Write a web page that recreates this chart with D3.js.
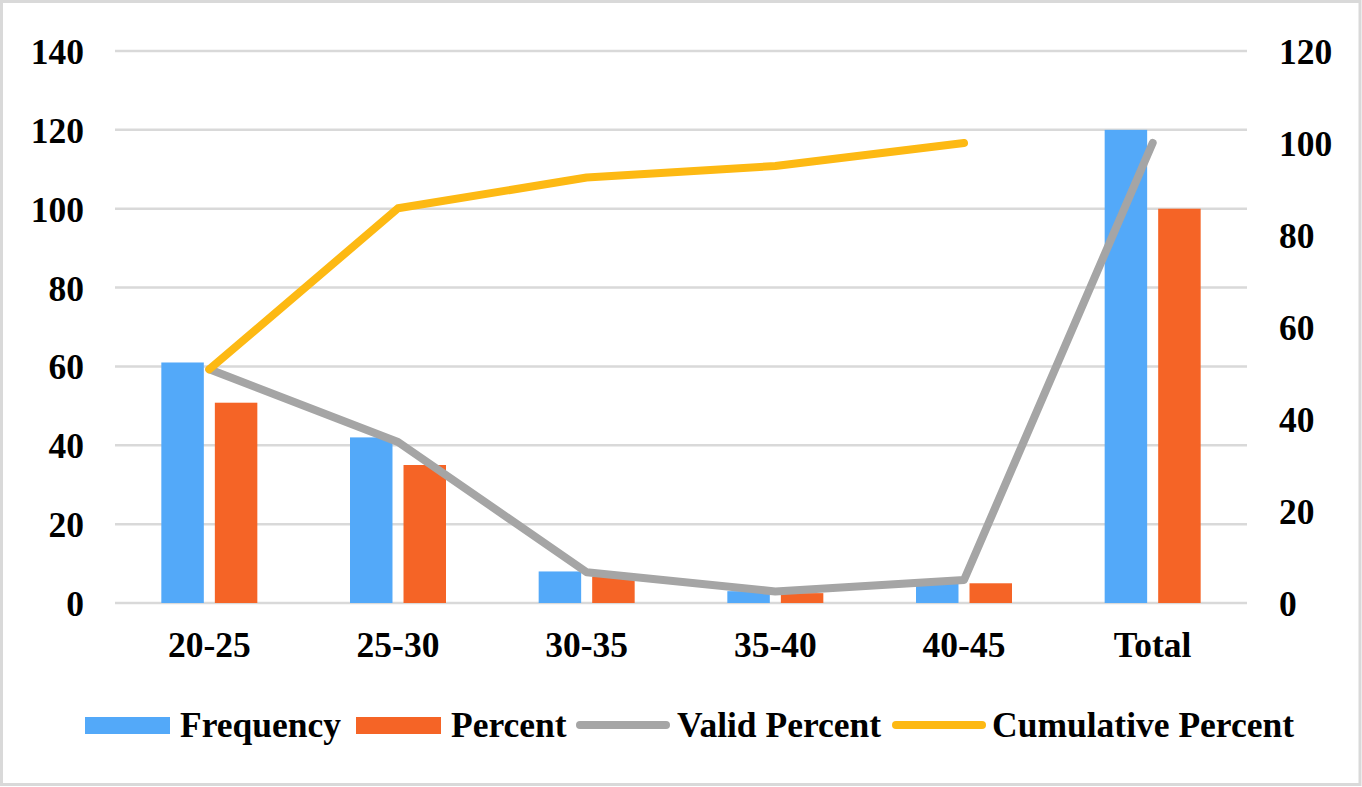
<!DOCTYPE html>
<html>
<head>
<meta charset="utf-8">
<script src="https://cdn.jsdelivr.net/npm/d3@7"></script>
<style>
  html, body { margin: 0; padding: 0; background: #fff; }
  svg { display: block; }
  text { font-family: "Liberation Serif", "Times New Roman", serif; font-weight: bold; fill: #000; }
</style>
</head>
<body>
<svg id="chart" width="1362" height="787"></svg>
<script>
const categories = ["20-25", "25-30", "30-35", "35-40", "40-45", "Total"];
const frequency = [61, 42, 8, 3, 6, 120];
const percent = [50.8, 35.0, 6.7, 2.5, 5.0, 100];
const validPercent = [50.8, 35.0, 6.7, 2.5, 5.0, 100];
const cumulativePercent = [50.8, 85.8, 92.5, 95.0, 100, null];
const leftTicks = [0, 20, 40, 60, 80, 100, 120, 140];
const rightTicks = [0, 20, 40, 60, 80, 100, 120];
const seriesNames = ["Frequency", "Percent", "Valid Percent", "Cumulative Percent"];

const colors = {
  "Frequency": "#53a9f9",
  "Percent": "#f56426",
  "Valid Percent": "#a5a5a5",
  "Cumulative Percent": "#fdb913"
};
const FS = "35.5px";

const svg = d3.select("#chart");
const W = 1362, H = 787;
const plot = { left: 115, right: 1247, top: 51, bottom: 603 };

svg.append("rect").attr("x", 1.5).attr("y", 1.5).attr("width", W - 3.5).attr("height", H - 4)
  .attr("fill", "#fff").attr("stroke", "#d9d9d9").attr("stroke-width", 3);

const x = d3.scaleBand().domain(categories).range([plot.left, plot.right]).padding(0);
const yL = d3.scaleLinear().domain([0, 140]).range([plot.bottom, plot.top]);
const yR = d3.scaleLinear().domain([0, 120]).range([plot.bottom, plot.top]);
const sub = d3.scaleBand().domain(["Frequency", "Percent"]).range([-48, 48]).paddingInner(0.206).paddingOuter(0);

// gridlines
svg.append("g").selectAll("line").data(leftTicks).join("line")
  .attr("x1", plot.left).attr("x2", plot.right)
  .attr("y1", d => yL(d)).attr("y2", d => yL(d))
  .attr("stroke", "#d9d9d9").attr("stroke-width", 2.5);

// left axis
const axL = svg.append("g").attr("transform", `translate(${plot.left - 31},0)`)
  .call(d3.axisLeft(yL).tickValues(leftTicks).tickSize(0).tickPadding(0));
axL.select(".domain").remove();
axL.selectAll("text").style("font-size", FS).style("font-family", "Liberation Serif").attr("dy", "0.35em");

// right axis
const axR = svg.append("g").attr("transform", `translate(${plot.right + 32},0)`)
  .call(d3.axisRight(yR).tickValues(rightTicks).tickSize(0).tickPadding(0));
axR.select(".domain").remove();
axR.selectAll("text").style("font-size", FS).style("font-family", "Liberation Serif").attr("dy", "0.35em");

// x axis labels
const axX = svg.append("g").attr("transform", `translate(0,${plot.bottom + 42})`)
  .call(d3.axisBottom(x).tickSize(0).tickPadding(0));
axX.select(".domain").remove();
axX.selectAll("text").style("font-size", FS).style("font-family", "Liberation Serif").attr("dy", "0.35em");

// bars
const bars = [
  { name: "Frequency", values: frequency },
  { name: "Percent", values: percent }
];
bars.forEach(s => {
  svg.append("g").selectAll("rect").data(categories.map((c, i) => ({ c, v: s.values[i] }))).join("rect")
    .attr("x", d => x(d.c) + x.bandwidth() / 2 + sub(s.name))
    .attr("width", sub.bandwidth())
    .attr("y", d => yL(d.v))
    .attr("height", d => yL(0) - yL(d.v))
    .attr("fill", colors[s.name]);
});

// lines
const lines = [
  { name: "Valid Percent", values: validPercent },
  { name: "Cumulative Percent", values: cumulativePercent }
];
const lineGen = d3.line()
  .defined(d => d.v !== null)
  .x(d => x(d.c) + x.bandwidth() / 2)
  .y(d => yR(d.v));
lines.forEach(s => {
  svg.append("path")
    .datum(categories.map((c, i) => ({ c, v: s.values[i] })))
    .attr("d", lineGen)
    .attr("fill", "none")
    .attr("stroke", colors[s.name])
    .attr("stroke-width", 8)
    .attr("stroke-linecap", "round")
    .attr("stroke-linejoin", "round");
});

// legend
const legendItems = [
  { name: "Frequency", type: "bar", x: 85, tx: 180 },
  { name: "Percent", type: "bar", x: 356, tx: 451 },
  { name: "Valid Percent", type: "line", x: 580, tx: 677 },
  { name: "Cumulative Percent", type: "line", x: 896, tx: 992 }
];
const ly = 725;
const lg = svg.append("g");
legendItems.forEach(it => {
  if (it.type === "bar") {
    lg.append("rect").attr("x", it.x).attr("y", ly - 8).attr("width", 85).attr("height", 17)
      .attr("fill", colors[it.name]);
  } else {
    lg.append("line").attr("x1", it.x).attr("x2", it.x + 86).attr("y1", ly).attr("y2", ly)
      .attr("stroke", colors[it.name]).attr("stroke-width", 8).attr("stroke-linecap", "round");
  }
  lg.append("text").attr("x", it.tx).attr("y", ly).attr("dy", "0.35em")
    .style("font-size", FS).text(it.name);
});
</script>
</body>
</html>
